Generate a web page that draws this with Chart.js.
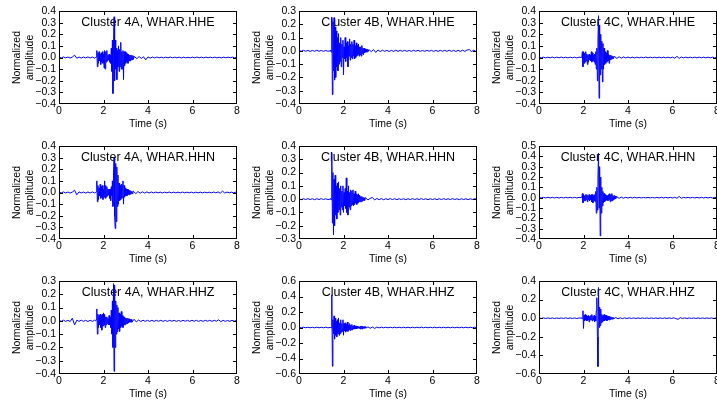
<!DOCTYPE html>
<html>
<head>
<meta charset="utf-8">
<script src="https://cdn.jsdelivr.net/npm/chart.js@4.4.0/dist/chart.umd.min.js"></script>
<style>
  html, body { margin: 0; padding: 0; background: #fff; }
  #wrap { position: relative; width: 717px; height: 405px; overflow: hidden; }
  #wrap canvas { position: absolute; }
</style>
</head>
<body>
<div id="wrap"></div>
<script>
// sampling steps (s): slow for the quiet parts, fast inside the event window
const DT_SLOW = 0.1;
const DT_FAST = 0.025;

// ---------- Cluster 4A, WHAR.HHE ----------
const hhe4A_t0 = 1.65;
const hhe4A_pre = [0.004,-0.004,0.005,-0.003,0.004,-0.005,0.004,0.02,-0.006,0.004,-0.005,0.004,-0.004,0.005,-0.004,0.004,-0.005];
const hhe4A_evt = [
  0.0,0.005,0.06,-0.08,0.04,-0.05,0.05,-0.03,0.03,-0.06,
  0.04,-0.04,0.05,-0.05,0.03,-0.09,0.06,-0.1,0.05,-0.04,
  0.06,-0.03,0.02,-0.02,0.03,-0.04,0.02,-0.05,0.08,-0.12,
  0.15,-0.31,0.1,0.35,-0.2,0.15,-0.1,0.08,-0.19,0.06,
  -0.08,0.1,-0.12,0.07,-0.08,0.13,-0.1,0.05,-0.1,0.06,
  -0.19,0.05,-0.07,0.05,-0.05,0.04,-0.04,0.03,-0.05,0.03,
  -0.03,0.02,-0.03,0.02,-0.02,0.02,-0.02,0.015,-0.015,0.01];
const hhe4A_post = [
  0.01,-0.01,0.008,-0.008,0.006,-0.02,0.005,-0.005,0.004,-0.004,
  0.004,-0.003,0.003,-0.004,0.003,-0.003,0.004,-0.003,0.003,-0.003,
  0.003,-0.004,0.003,-0.003,0.002,-0.003,0.003,-0.003,0.004,-0.003,
  0.003,-0.003,0.003,-0.002,0.003,-0.003,0.003,-0.003,0.002,-0.003,
  0.003,-0.003,0.003,-0.002,0.003,-0.003,0.003];

// ---------- Cluster 4B, WHAR.HHE ----------
const hhe4B_t0 = 1.4;
const hhe4B_pre = [0.003,-0.003,0.004,-0.003,0.003,-0.004,0.003,-0.003,0.004,-0.003,0.003,-0.004,0.003,-0.003];
const hhe4B_evt = [
  0.0,0.005,-0.01,0.25,-0.33,0.22,-0.15,0.25,-0.22,0.18,
  -0.2,0.15,-0.12,0.1,-0.15,0.13,-0.1,0.06,-0.08,0.1,
  -0.12,0.05,-0.05,0.08,-0.18,0.03,-0.06,0.1,-0.08,0.06,
  -0.05,0.07,-0.12,0.04,-0.04,0.09,-0.07,0.05,-0.05,0.07,
  -0.06,0.05,-0.04,0.08,-0.06,0.04,-0.05,0.06,-0.04,0.04,
  -0.03,0.05,-0.04,0.03,-0.03,0.03,-0.04,0.04,-0.02,0.02,
  -0.03,0.02,-0.015,0.015,-0.01,0.01,-0.01,0.01,-0.005,0.005];
const hhe4B_post = [
  0.008,-0.006,0.01,-0.012,0.006,-0.005,0.005,-0.004,0.004,-0.005,
  0.004,-0.004,0.005,-0.004,0.004,-0.003,0.004,-0.004,0.003,-0.004,
  0.004,-0.003,0.004,-0.004,0.003,-0.004,0.004,-0.003,0.004,-0.004,
  0.003,-0.004,0.004,-0.003,0.004,-0.004,0.005,-0.004,0.004,-0.005,
  0.004,-0.004,0.005,-0.004,0.006,0.01,-0.005,0.005,-0.004,0.004];

// ---------- Cluster 4C, WHAR.HHE ----------
const hhe4C_t0 = 1.9;
const hhe4C_pre = [0.003,-0.003,0.003,-0.004,0.003,-0.003,0.004,-0.003,0.003,-0.003,0.004,-0.003,0.003,-0.004,0.003,-0.003,0.003,-0.004,0.003];
const hhe4C_evt = [
  0.0,0.005,0.05,-0.08,0.05,-0.05,0.04,-0.04,0.05,-0.03,
  0.03,-0.06,0.02,-0.04,0.03,-0.02,0.02,-0.03,0.05,-0.04,
  0.04,-0.03,0.02,-0.04,0.03,-0.06,0.05,-0.1,0.08,-0.2,
  0.15,0.36,-0.35,0.28,-0.15,0.2,-0.1,0.14,-0.21,0.12,
  -0.1,0.08,-0.06,0.05,-0.05,0.04,-0.04,0.06,-0.03,0.03,
  -0.05,0.02,-0.02,0.02,-0.015,0.015,-0.01,0.01,-0.01,0.01];
const hhe4C_post = [
  0.008,-0.008,0.006,-0.005,0.005,-0.004,0.004,-0.004,0.003,-0.004,
  0.003,-0.003,0.003,-0.003,0.004,-0.003,0.003,-0.003,0.003,-0.003,
  0.003,-0.003,0.003,-0.003,0.003,-0.004,0.003,-0.006,0.01,-0.008,
  0.004,-0.003,0.003,-0.003,0.003,-0.003,0.003,-0.003,0.003,-0.003,
  0.003,-0.003,0.003,-0.003,0.003,-0.003,0.003];

// ---------- Cluster 4A, WHAR.HHN ----------
const hhn4A_t0 = 1.65;
const hhn4A_pre = [0.004,-0.004,0.005,-0.004,0.004,-0.005,0.004,0.02,-0.02,0.005,-0.004,0.004,-0.005,0.004,-0.004,0.005,-0.004];
const hhn4A_evt = [
  0.0,0.005,0.1,-0.08,0.06,-0.06,0.04,-0.03,0.07,-0.05,
  0.05,-0.04,0.06,-0.06,0.03,-0.04,0.1,-0.05,0.06,-0.04,
  0.05,-0.03,0.03,-0.02,0.03,-0.05,0.03,-0.07,0.05,-0.03,
  0.1,-0.12,0.15,0.3,-0.2,-0.31,0.25,-0.25,0.22,-0.12,
  0.15,-0.1,0.08,-0.07,0.06,-0.06,0.07,-0.05,0.05,0.1,
  -0.1,0.06,-0.04,0.04,-0.03,0.03,-0.03,0.03,-0.02,0.02,
  -0.02,0.02,-0.015,0.015,-0.01,0.01,-0.01,0.01];
const hhn4A_post = [
  0.01,-0.01,0.008,-0.006,0.006,-0.005,0.005,-0.004,0.004,-0.004,
  0.004,-0.003,0.003,-0.004,0.003,-0.003,0.004,-0.003,0.003,-0.003,
  0.003,-0.003,0.004,-0.003,0.003,-0.003,0.003,-0.004,0.003,-0.003,
  0.003,-0.003,0.003,-0.003,0.003,-0.003,0.004,-0.003,0.005,-0.006,
  0.012,-0.005,0.004,-0.003,0.003,-0.003,0.003,-0.003];

// ---------- Cluster 4B, WHAR.HHN ----------
const hhn4B_t0 = 1.4;
const hhn4B_pre = [0.003,-0.004,0.003,-0.003,0.004,-0.003,0.003,-0.004,0.003,-0.003,0.004,-0.003,0.003,-0.003];
const hhn4B_evt = [
  0.0,0.005,-0.005,0.35,-0.18,0.2,-0.27,0.15,-0.2,0.18,
  -0.12,0.1,-0.15,0.12,-0.1,0.13,-0.08,0.08,-0.12,0.1,
  -0.06,0.06,-0.08,0.1,-0.1,0.05,-0.05,0.08,-0.07,0.16,
  -0.1,0.06,-0.12,0.1,-0.06,0.05,-0.08,0.07,-0.05,0.06,
  -0.04,0.07,-0.05,0.04,-0.04,0.06,-0.03,0.04,-0.04,0.03,
  -0.03,0.04,-0.02,0.03,-0.02,0.02,-0.02,0.02,-0.015,0.015,
  -0.01,0.01,-0.01,0.01];
const hhn4B_post = [
  0.008,-0.006,0.006,0.012,-0.006,0.005,-0.004,0.004,-0.004,0.003,
  -0.003,0.004,-0.003,0.003,-0.004,0.003,-0.003,0.003,-0.004,0.003,
  -0.003,0.004,-0.003,0.003,-0.003,0.004,-0.003,0.003,-0.004,0.003,
  -0.003,0.003,-0.004,0.003,-0.003,0.004,-0.003,0.003,-0.003,0.004,
  -0.003,0.003,-0.004,0.003,-0.003,0.003,-0.004,0.003,-0.003,0.004,-0.003];

// ---------- Cluster 4C, WHAR.HHN ----------
const hhn4C_t0 = 1.9;
const hhn4C_pre = [0.003,-0.003,0.003,-0.003,0.004,-0.003,0.003,-0.003,0.003,-0.004,0.003,-0.003,0.003,-0.003,0.004,-0.003,0.003,-0.003,0.003];
const hhn4C_evt = [
  0.0,0.005,0.04,-0.05,0.03,-0.03,0.02,-0.03,0.03,-0.02,
  0.03,-0.04,0.02,-0.02,0.03,-0.03,0.02,-0.02,0.03,-0.04,
  0.03,-0.05,0.02,-0.03,0.03,-0.04,0.06,-0.15,0.1,-0.12,
  0.2,0.43,-0.1,0.3,-0.37,0.2,-0.15,0.1,-0.08,0.06,
  -0.05,0.04,-0.04,0.03,-0.03,0.02,-0.02,0.02,-0.03,0.03,
  -0.02,0.04,-0.04,0.03,-0.03,0.04,-0.03,0.02,-0.02,0.02,
  -0.015,0.015,-0.01,0.01];
const hhn4C_post = [
  0.008,-0.006,0.005,-0.005,0.004,-0.004,0.004,-0.003,0.003,-0.003,
  0.003,-0.003,0.003,-0.003,0.003,-0.003,0.003,-0.003,0.003,-0.003,
  0.003,-0.003,0.003,-0.003,0.003,-0.003,0.004,-0.006,0.012,-0.006,
  0.004,-0.003,0.003,-0.003,0.003,-0.003,0.003,-0.003,0.003,-0.003,
  0.003,-0.003,0.003,-0.003,0.003,-0.003];

// ---------- Cluster 4A, WHAR.HHZ ----------
const hhz4A_t0 = 1.65;
const hhz4A_pre = [0.005,-0.004,0.005,-0.004,0.004,-0.005,0.02,-0.03,0.005,-0.004,0.005,-0.004,0.004,-0.005,0.004,-0.004,0.005];
const hhz4A_evt = [
  0.0,0.01,0.09,-0.1,0.05,-0.05,0.04,-0.03,0.05,-0.05,
  0.04,-0.07,0.05,-0.04,0.06,-0.03,0.05,-0.05,0.03,-0.03,
  0.03,-0.02,0.02,-0.03,0.04,-0.03,0.03,-0.05,0.08,-0.1,
  0.15,-0.2,0.28,-0.38,0.27,-0.2,0.15,-0.1,0.12,-0.08,
  0.1,-0.06,0.06,-0.08,0.05,-0.05,0.07,-0.04,0.04,-0.05,
  0.03,-0.03,0.03,-0.03,0.02,-0.02,0.02,-0.02,0.02,-0.015,
  0.015,-0.01,0.01,-0.01,0.01];
const hhz4A_post = [
  -0.01,0.012,-0.008,0.006,-0.005,0.005,-0.004,0.004,-0.004,0.004,
  -0.004,0.004,-0.003,0.004,-0.004,0.003,-0.004,0.004,-0.003,0.004,
  -0.004,0.003,-0.004,0.004,-0.003,0.004,-0.004,0.004,-0.003,0.004,
  -0.004,0.003,-0.004,0.004,-0.003,0.004,-0.004,0.004,-0.003,0.008,
  -0.006,0.004,-0.004,0.003,-0.004,0.004,-0.003,0.004];

// ---------- Cluster 4B, WHAR.HHZ ----------
const hhz4B_t0 = 1.4;
const hhz4B_pre = [0.004,-0.004,0.004,-0.003,0.004,-0.004,0.003,-0.004,0.004,-0.004,0.003,-0.004,0.004,-0.004];
const hhz4B_evt = [
  0.0,0.005,-0.005,0.42,-0.5,0.1,-0.08,0.15,-0.15,0.12,
  -0.1,0.08,-0.12,0.1,-0.08,0.12,-0.1,0.06,-0.08,0.1,
  -0.06,0.05,-0.05,0.1,-0.1,0.05,-0.04,0.06,-0.06,0.04,
  -0.04,0.07,-0.05,0.03,-0.03,0.05,-0.04,0.03,-0.03,0.04,
  -0.03,0.02,-0.02,0.03,-0.02,0.02,-0.02,0.02,-0.015,0.015,
  -0.01,0.01,-0.01,0.01,-0.02,0.02,-0.015,0.02,-0.02,0.015,
  -0.01,0.01,-0.01,0.01];
const hhz4B_post = [
  -0.008,0.008,-0.01,0.006,-0.012,0.006,-0.005,0.005,-0.004,0.004,
  -0.004,0.004,-0.004,0.004,-0.004,0.004,-0.004,0.004,-0.004,0.004,
  -0.004,0.004,-0.004,0.004,-0.004,0.005,-0.004,0.004,-0.004,0.004,
  -0.004,0.004,-0.004,0.004,-0.004,0.004,-0.004,0.004,-0.004,0.004,
  -0.004,0.004,-0.004,0.004,-0.004,0.004,-0.004,0.004,-0.004,0.004,-0.004];

// ---------- Cluster 4C, WHAR.HHZ ----------
const hhz4C_t0 = 1.9;
const hhz4C_pre = [0.003,-0.003,0.004,-0.003,0.003,-0.003,0.003,-0.004,0.003,-0.003,0.003,-0.003,0.004,-0.003,0.003,-0.003,0.003,-0.004,0.003];
const hhz4C_evt = [
  0.0,0.005,-0.005,0.08,-0.11,0.03,-0.03,0.04,-0.02,0.03,
  -0.03,0.02,-0.02,0.03,-0.04,0.02,-0.02,0.03,-0.02,0.04,
  -0.03,0.02,-0.02,0.03,-0.04,0.02,-0.03,0.08,0.22,-0.2,
  -0.52,0.33,-0.1,0.12,-0.08,0.1,-0.05,0.04,-0.04,0.03,
  -0.03,0.04,-0.03,0.03,-0.02,0.03,-0.03,0.02,-0.02,0.02,
  -0.02,0.02,-0.015,0.015,-0.01,0.01,-0.01,0.01];
const hhz4C_post = [
  -0.008,0.008,-0.006,0.005,-0.005,0.004,-0.004,0.004,-0.003,0.003,
  -0.003,0.003,-0.003,0.003,-0.003,0.003,-0.003,0.003,-0.003,0.003,
  -0.003,0.003,-0.003,0.003,-0.003,0.003,-0.003,0.004,-0.004,-0.012,
  0.006,-0.003,0.003,-0.003,0.003,-0.003,0.003,-0.003,0.003,-0.003,
  0.003,-0.003,0.003,-0.003,0.003,-0.003,0.003,-0.003];

// panel titles and axis ranges, row by row
const titles = [
  'Cluster 4A, WHAR.HHE', 'Cluster 4B, WHAR.HHE', 'Cluster 4C, WHAR.HHE',
  'Cluster 4A, WHAR.HHN', 'Cluster 4B, WHAR.HHN', 'Cluster 4C, WHAR.HHN',
  'Cluster 4A, WHAR.HHZ', 'Cluster 4B, WHAR.HHZ', 'Cluster 4C, WHAR.HHZ'];
const yMins  = [-0.4, -0.4, -0.4, -0.4, -0.3, -0.4, -0.4, -0.6, -0.6];
const yMaxs  = [ 0.4,  0.3,  0.4,  0.4,  0.4,  0.5,  0.3,  0.6,  0.4];
const ySteps = [ 0.1,  0.1,  0.1,  0.1,  0.1,  0.1,  0.1,  0.2,  0.2];
const xTicks = [0, 2, 4, 6, 8];

const traces = [
  [hhe4A_pre, hhe4A_t0, hhe4A_evt, hhe4A_post],
  [hhe4B_pre, hhe4B_t0, hhe4B_evt, hhe4B_post],
  [hhe4C_pre, hhe4C_t0, hhe4C_evt, hhe4C_post],
  [hhn4A_pre, hhn4A_t0, hhn4A_evt, hhn4A_post],
  [hhn4B_pre, hhn4B_t0, hhn4B_evt, hhn4B_post],
  [hhn4C_pre, hhn4C_t0, hhn4C_evt, hhn4C_post],
  [hhz4A_pre, hhz4A_t0, hhz4A_evt, hhz4A_post],
  [hhz4B_pre, hhz4B_t0, hhz4B_evt, hhz4B_post],
  [hhz4C_pre, hhz4C_t0, hhz4C_evt, hhz4C_post]];

function buildPoints(pre, t0, evt, post) {
  const pts = [];
  pre.forEach((v, i) => pts.push({x: i * DT_SLOW, y: v}));
  evt.forEach((v, i) => pts.push({x: t0 + i * DT_FAST, y: v}));
  const t1 = t0 + evt.length * DT_FAST;
  post.forEach((v, i) => pts.push({x: t1 + i * DT_SLOW, y: v}));
  return pts;
}

const FONT = '"Liberation Sans", Arial, Helvetica, sans-serif';

// box around the plot, inward tick marks, label inside the plot
const framePlugin = {
  id: 'frame',
  beforeDatasetsDraw(chart, args, opts) {
    const {ctx, chartArea: a} = chart;
    ctx.save();
    ctx.font = '12.5px ' + FONT;
    ctx.fillStyle = '#000';
    ctx.textAlign = 'center';
    ctx.textBaseline = 'middle';
    ctx.fillText(opts.label, (a.left + a.right) / 2, a.top + 12);
    ctx.restore();
  },
  afterDatasetsDraw(chart) {
    const {ctx, chartArea: a, scales} = chart;
    ctx.save();
    ctx.strokeStyle = '#000';
    ctx.lineWidth = 1;
    ctx.strokeRect(a.left + 0.5, a.top + 0.5, a.width - 1, a.height - 1);
    ctx.beginPath();
    scales.x.ticks.forEach(t => {
      const p = Math.round(scales.x.getPixelForValue(t.value)) + 0.5;
      if (p < a.left + 2 || p > a.right - 2) return;
      ctx.moveTo(p, a.bottom); ctx.lineTo(p, a.bottom - 4);
      ctx.moveTo(p, a.top); ctx.lineTo(p, a.top + 4);
    });
    scales.y.ticks.forEach(t => {
      const p = Math.round(scales.y.getPixelForValue(t.value)) + 0.5;
      if (p < a.top + 2 || p > a.bottom - 2) return;
      ctx.moveTo(a.left, p); ctx.lineTo(a.left + 4, p);
      ctx.moveTo(a.right, p); ctx.lineTo(a.right - 4, p);
    });
    ctx.stroke();
    ctx.restore();
  }
};

function fmtY(v) {
  const s = Math.abs(v).toFixed(1);
  return v < -1e-9 ? '\u2212' + s : s;
}

const plotLefts = [59, 299, 539];
const plotTops = [11, 146, 281];
const wrap = document.getElementById('wrap');

for (let k = 0; k < 9; k++) {
  const col = k % 3, row = Math.floor(k / 3);
  const cv = document.createElement('canvas');
  cv.width = 243; cv.height = 135;
  cv.style.left = (plotLefts[col] - 59) + 'px';
  cv.style.top = (plotTops[row] - 11) + 'px';
  wrap.appendChild(cv);

  const tickFont = {family: FONT, size: 10.5};
  new Chart(cv.getContext('2d'), {
    type: 'line',
    data: {
      datasets: [{
        data: buildPoints(...traces[k]),
        borderColor: '#0000ff',
        borderWidth: 1,
        pointRadius: 0,
        fill: false,
        tension: 0
      }]
    },
    options: {
      responsive: false,
      animation: false,
      events: [],
      layout: {padding: {top: 11, left: 0, right: 6, bottom: 0}},
      plugins: {
        legend: {display: false},
        tooltip: {enabled: false},
        frame: {label: titles[k]}
      },
      scales: {
        x: {
          type: 'linear', min: 0, max: 8,
          afterBuildTicks: s => { s.ticks = xTicks.map(v => ({value: v})); },
          grid: {display: false, drawTicks: false},
          border: {display: false},
          ticks: {color: '#000', font: tickFont, padding: 1, maxRotation: 0, autoSkip: false,
                  callback: v => String(v)},
          title: {display: true, text: 'Time (s)', color: '#000',
                  font: {family: FONT, size: 10.5, lineHeight: 1.26}, padding: {top: 0, bottom: 4}},
          afterFit: s => { s.height = 31; }
        },
        y: {
          min: yMins[k], max: yMaxs[k],
          grid: {display: false, drawTicks: false},
          border: {display: false},
          ticks: {stepSize: ySteps[k], autoSkip: false, color: '#000', font: tickFont, padding: 3,
                  callback: v => fmtY(v)},
          title: {display: true, text: ['Normalized', 'amplitude'], color: '#000',
                  font: {family: FONT, size: 10.5, lineHeight: 1.26}, padding: {top: 10, bottom: 0}},
          afterFit: s => { s.width = 59; }
        }
      }
    },
    plugins: [framePlugin]
  });
}
</script>
</body>
</html>
